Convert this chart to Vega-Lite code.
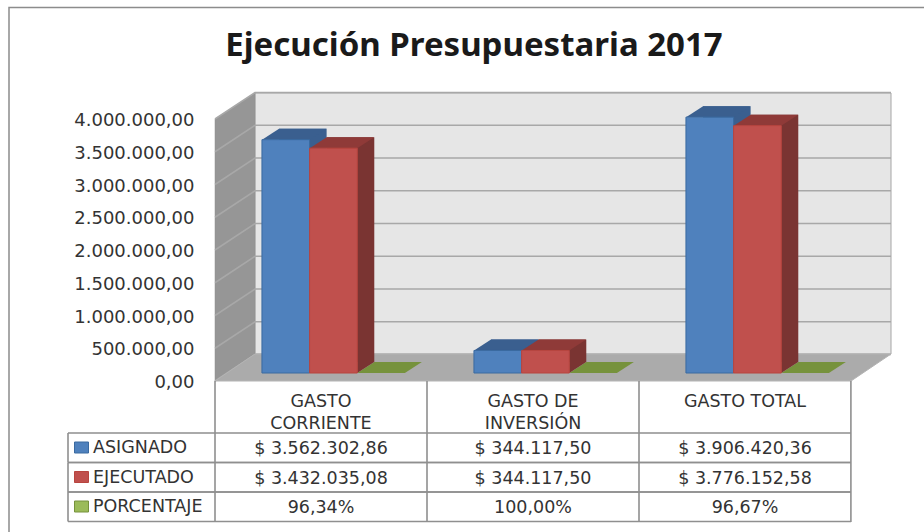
{
"$schema":"https://vega.github.io/schema/vega-lite/v6.json",
"width":636,"height":403,
"padding":{"left":215,"top":119,"right":73,"bottom":10},
"autosize":{"type":"none"},
"background":"white",
"config":{"view":{"stroke":null},"locale":{"number":{"decimal":",","thousands":".","grouping":[3],"currency":["$ ",""]}},"text":{"font":"DejaVu Sans"}},
"title":{"text":"Ejecución Presupuestaria 2017","font":"Noto Sans","fontWeight":"bold","fontSize":33,"color":"#1a1a1a","anchor":"middle","dx":-59,"offset":-58},
"datasets":{
"d":[
{"category":"GASTO CORRIENTE","series":"ASIGNADO","value":3562302.86},
{"category":"GASTO CORRIENTE","series":"EJECUTADO","value":3432035.08},
{"category":"GASTO CORRIENTE","series":"PORCENTAJE","value":0.9634},
{"category":"GASTO DE INVERSIÓN","series":"ASIGNADO","value":344117.5},
{"category":"GASTO DE INVERSIÓN","series":"EJECUTADO","value":344117.5},
{"category":"GASTO DE INVERSIÓN","series":"PORCENTAJE","value":1},
{"category":"GASTO TOTAL","series":"ASIGNADO","value":3906420.36},
{"category":"GASTO TOTAL","series":"EJECUTADO","value":3776152.58},
{"category":"GASTO TOTAL","series":"PORCENTAJE","value":0.9667}
],
"t":[{"tick":0},{"tick":500000},{"tick":1000000},{"tick":1500000},{"tick":2000000},{"tick":2500000},{"tick":3000000},{"tick":3500000},{"tick":4000000}],
"s":[{"series":"ASIGNADO"},{"series":"EJECUTADO"},{"series":"PORCENTAJE"}],
"c":[{"category":"GASTO CORRIENTE"},{"category":"GASTO DE INVERSIÓN"},{"category":"GASTO TOTAL"}]
},
"resolve":{"scale":{"y":"independent","color":"independent","xOffset":"independent"},"axis":{"y":"independent"}},
"layer":[
{"data":{"values":[{"z":0}]},"mark":{"type":"point","filled":false,"opacity":1,"size":4,"stroke":"#8c8c8c","strokeWidth":1.5,"shape":"M-206 413 L-206 -111.5 L709 -111.5"},"encoding":{"x":{"value":0},"y":{"field":"z","type":"quantitative","scale":{"domain":[0,4000000],"range":[0,0]},"axis":null}}},
{"data":{"values":[{"z":0}]},"mark":{"type":"point","filled":true,"opacity":1,"size":4,"fill":"#e6e6e6","stroke":"#a6a6a6","strokeWidth":1,"shape":"M40 -27 L676 -27 L676 -288 L40 -288 Z"},"encoding":{"x":{"value":0},"y":{"field":"z","type":"quantitative","scale":{"domain":[0,4000000],"range":[262,0]},"axis":null}}},
{"data":{"values":[{"z":0}]},"mark":{"type":"point","filled":true,"opacity":1,"size":4,"fill":"#969696","stroke":"#8c8c8c","strokeWidth":0.5,"shape":"M0 0 L40 -27 L40 -288 L0 -262 Z"},"encoding":{"x":{"value":0},"y":{"field":"z","type":"quantitative","scale":{"domain":[0,4000000],"range":[262,0]},"axis":null}}},
{"data":{"name":"t"},"mark":{"type":"point","filled":false,"opacity":1,"size":4,"stroke":"#a8a8a8","strokeWidth":1.5,"shape":"M0 0 L40 -26.5 L676 -26.5"},"encoding":{"x":{"value":0},"y":{"field":"tick","type":"quantitative","scale":{"domain":[0,4000000],"range":[262,0]},"axis":{"title":null,"values":[0,500000,1000000,1500000,2000000,2500000,3000000,3500000,4000000],"format":",.2f","grid":false,"ticks":false,"domain":false,"labelFont":"DejaVu Sans","labelFontSize":18,"labelColor":"#333333","labelPadding":21,"labelOffset":1.5}}}},
{"data":{"values":[{"z":0}]},"mark":{"type":"point","filled":true,"opacity":1,"size":4,"fill":"#ababab","stroke":"#b4b4b4","strokeWidth":1,"shape":"M0 0 L40 -27 L676 -27 L636 0 Z"},"encoding":{"x":{"value":0},"y":{"field":"z","type":"quantitative","scale":{"domain":[0,4000000],"range":[262,0]},"axis":null}}},
{"data":{"name":"d"},"mark":{"type":"bar","yOffset":-19,"y2Offset":-19},"transform":[{"filter":"datum.series!='PORCENTAJE'"}],"encoding":{
"x":{"field":"category","type":"nominal","scale":{"domain":["GASTO CORRIENTE","GASTO DE INVERSIÓN","GASTO TOTAL"],"paddingInner":0.325,"paddingOuter":0.1625},"axis":null},
"xOffset":{"field":"series","type":"nominal","scale":{"domain":["ASIGNADO","EJECUTADO","PORCENTAJE"],"range":[29.5,172.5]}},
"y":{"field":"value","type":"quantitative","scale":{"domain":[0,4000000],"range":[262,0]},"axis":null},
"color":{"field":"series","type":"nominal","legend":null,"scale":{"domain":["ASIGNADO","EJECUTADO","PORCENTAJE"],"range":["#3a5f8f","#7a3432","#657f36"]}}}},
{"data":{"name":"d"},"mark":{"type":"point","filled":true,"opacity":1,"size":4,"yOffset":-8,"shape":"M-23.75 0 L-6.75 -11 L40.75 -11 L23.75 0 Z"},"encoding":{
"x":{"field":"category","type":"nominal","axis":null},
"xOffset":{"field":"series","type":"nominal","scale":{"domain":["ASIGNADO","EJECUTADO","PORCENTAJE"],"range":[12.5,155.5]}},
"y":{"field":"value","type":"quantitative","scale":{"domain":[0,4000000],"range":[262,0]},"axis":null},
"color":{"field":"series","type":"nominal","legend":null,"scale":{"domain":["ASIGNADO","EJECUTADO","PORCENTAJE"],"range":["#3a5f8f","#8f3a38","#76923c"]}}}},
{"data":{"name":"d"},"mark":{"type":"point","filled":true,"opacity":1,"size":4,"yOffset":-8,"shape":"M23.75 0 L40.75 -11 L23.75 -11 Z"},"transform":[{"filter":"datum.series=='EJECUTADO'"}],"encoding":{
"x":{"field":"category","type":"nominal","axis":null},
"xOffset":{"field":"series","type":"nominal","scale":{"domain":["ASIGNADO","EJECUTADO","PORCENTAJE"],"range":[12.5,155.5]}},
"y":{"datum":0,"type":"quantitative","scale":{"domain":[0,4000000],"range":[262,0]},"axis":null},
"color":{"value":"#7a3432"}}},
{"data":{"name":"d"},"mark":{"type":"bar","yOffset":-8,"y2Offset":-8,"strokeWidth":1},"transform":[{"filter":"datum.series!='PORCENTAJE'"}],"encoding":{
"x":{"field":"category","type":"nominal","axis":null},
"xOffset":{"field":"series","type":"nominal","scale":{"domain":["ASIGNADO","EJECUTADO","PORCENTAJE"],"range":[12.5,155.5]}},
"y":{"field":"value","type":"quantitative","scale":{"domain":[0,4000000],"range":[262,0]},"axis":null},
"color":{"field":"series","type":"nominal","legend":null,"scale":{"domain":["ASIGNADO","EJECUTADO","PORCENTAJE"],"range":["#4f81bd","#c0504d","#9bbb59"]}},
"stroke":{"field":"series","type":"nominal","legend":null,"scale":{"domain":["ASIGNADO","EJECUTADO","PORCENTAJE"],"range":["#3a6aa0","#b8453f","#76923c"]}}}},
{"data":{"name":"c"},"mark":{"type":"point","filled":false,"opacity":1,"size":4,"stroke":"#8f8f8f","strokeWidth":1.6,"shape":"M-34.45 262 L-34.45 403"},"encoding":{"x":{"field":"category","type":"nominal","axis":null,"bandPosition":0},"y":{"value":0}}},
{"data":{"name":"c"},"mark":{"type":"point","filled":false,"opacity":1,"size":4,"stroke":"#8f8f8f","strokeWidth":1.6,"shape":"M177.45 262 L177.45 403"},"transform":[{"filter":"datum.category=='GASTO TOTAL'"}],"encoding":{"x":{"field":"category","type":"nominal","axis":null,"bandPosition":0},"y":{"value":0}}},
{"data":{"name":"s"},"mark":{"type":"point","filled":false,"opacity":1,"size":4,"stroke":"#8f8f8f","strokeWidth":1.6,"shape":"M-147 -15 L636 -15 M-147 -15 L-147 14.5 M-147 14.5 L636 14.5"},"encoding":{"x":{"value":0},"y":{"field":"series","type":"ordinal","scale":{"type":"point","padding":0,"domain":["ASIGNADO","EJECUTADO","PORCENTAJE"],"range":[329,388]},"axis":null}}},
{"data":{"name":"c"},"mark":{"type":"text","fontSize":17.5,"font":"DejaVu Sans","color":"#333333","baseline":"middle","align":"center","lineHeight":22},"transform":[{"calculate":"datum.category=='GASTO CORRIENTE'?['GASTO','CORRIENTE']:datum.category=='GASTO DE INVERSIÓN'?['GASTO DE','INVERSIÓN']:datum.category","as":"lbl"}],"encoding":{"x":{"field":"category","type":"nominal","axis":null},"y":{"value":282.5},"text":{"field":"lbl"}}},
{"data":{"name":"d"},"mark":{"type":"text","fontSize":17.5,"font":"DejaVu Sans","color":"#333333","dy":1},"transform":[{"filter":"datum.series!='PORCENTAJE'"}],"encoding":{"x":{"field":"category","type":"nominal","axis":null},"y":{"field":"series","type":"ordinal","scale":{"type":"point","padding":0,"domain":["ASIGNADO","EJECUTADO","PORCENTAJE"],"range":[329,388]},"axis":null},"text":{"field":"value","type":"quantitative","format":"$,.2f"}}},
{"data":{"name":"d"},"mark":{"type":"text","fontSize":17.5,"font":"DejaVu Sans","color":"#333333","dy":1},"transform":[{"filter":"datum.series=='PORCENTAJE'"}],"encoding":{"x":{"field":"category","type":"nominal","axis":null},"y":{"field":"series","type":"ordinal","scale":{"type":"point","padding":0,"domain":["ASIGNADO","EJECUTADO","PORCENTAJE"],"range":[329,388]},"axis":null},"text":{"field":"value","type":"quantitative","format":".2%"}}},
{"data":{"name":"s"},"mark":{"type":"text","fontSize":17.5,"font":"DejaVu Sans","color":"#333333","align":"left","dx":-122},"encoding":{"x":{"value":0},"y":{"field":"series","type":"ordinal","scale":{"type":"point","padding":0,"domain":["ASIGNADO","EJECUTADO","PORCENTAJE"],"range":[329,388]},"axis":null},"text":{"field":"series","type":"nominal"}}},
{"data":{"name":"s"},"mark":{"type":"point","filled":true,"opacity":1,"size":4,"strokeWidth":1,"shape":"M-140.5 -6 L-126.5 -6 L-126.5 5 L-140.5 5 Z"},"encoding":{"x":{"value":0},"y":{"field":"series","type":"ordinal","scale":{"type":"point","padding":0,"domain":["ASIGNADO","EJECUTADO","PORCENTAJE"],"range":[329,388]},"axis":null},
"color":{"field":"series","type":"nominal","legend":null,"scale":{"domain":["ASIGNADO","EJECUTADO","PORCENTAJE"],"range":["#4f81bd","#c0504d","#9bbb59"]}},
"stroke":{"field":"series","type":"nominal","legend":null,"scale":{"domain":["ASIGNADO","EJECUTADO","PORCENTAJE"],"range":["#385d8a","#8c3836","#71893f"]}}}}
]
}
